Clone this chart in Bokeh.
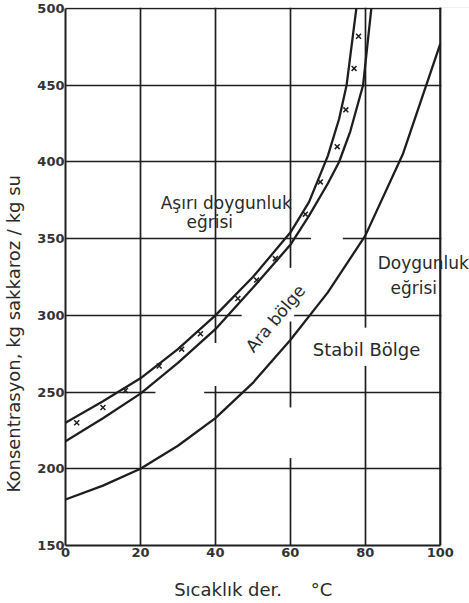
from bokeh.plotting import figure
from bokeh.models import Label, FixedTicker, Span
from bokeh.embed import file_html
from bokeh.resources import INLINE
import math

# ---- data ----
temp_sat = [0, 10, 20, 30, 40, 50, 60, 70, 80, 90, 100]
conc_sat = [180, 189, 200, 215, 233, 256, 284, 315, 352, 405, 477]          # Doygunluk eğrisi

temp_mid = [0, 10, 20, 30, 40, 50, 60, 65, 70, 73, 76, 79.4, 81.6]
conc_mid = [218, 233, 249, 269, 291, 318, 346, 365, 386, 400, 420, 450, 500]

temp_sup = [0, 10, 20, 30, 40, 50, 60, 65, 70, 73, 75, 77.6]
conc_sup = [230, 244, 259, 278, 300, 325, 354, 374, 404, 428, 450, 500]     # Aşırı doygunluk eğrisi

temp_pts = [3, 10, 16, 25, 31, 36, 46, 51, 56, 64, 68, 72.5, 74.8, 77, 78.2]
conc_pts = [230, 240, 251, 267, 278, 288, 311, 323, 337, 366, 387, 410, 434, 461, 482]

x_ticks = [0, 20, 40, 60, 80, 100]
y_ticks = [150, 200, 250, 300, 350, 400, 450, 500]

INK = "#1e1e1e"
FONT = "DejaVu Sans"
NB = "\u00a0"

# frame extends past 100 so the right-hand label is not cut; the part past 100 is blanked
p = figure(width=469, height=603, x_range=(0, 107.8), y_range=(150, 500.7),
           output_backend="svg", toolbar_location=None,
           min_border_left=63, min_border_right=0, min_border_top=7, min_border_bottom=58)
p.background_fill_color = "white"
p.border_fill_color = "white"
p.outline_line_color = None

p.xaxis.ticker = FixedTicker(ticks=x_ticks)
p.yaxis.ticker = FixedTicker(ticks=y_ticks)
p.xaxis.bounds = (0, 100)
p.yaxis.bounds = (150, 500)
for ax in (p.xaxis[0], p.yaxis[0]):
    ax.axis_line_color = INK
    ax.axis_line_width = 2
    ax.major_tick_out = 0
    ax.major_tick_in = 0
    ax.minor_tick_out = 0
    ax.minor_tick_in = 0
    ax.major_label_text_font = FONT
    ax.major_label_text_font_size = "13px"
    ax.major_label_text_font_style = "bold"
    ax.major_label_text_color = "#333333"
    ax.axis_label_text_font = FONT
    ax.axis_label_text_font_size = "18px"
    ax.axis_label_text_font_style = "normal"
    ax.axis_label_text_color = "#2a2a2a"
p.xaxis.major_label_standoff = 2
p.yaxis.major_label_standoff = 1
p.xaxis.axis_label = "Sıcaklık der." + NB * 5 + "°C" + NB * 5
p.yaxis.axis_label = "Konsentrasyon, kg sakkaroz / kg su" + NB * 20
p.xaxis.axis_label_standoff = 19
p.yaxis.axis_label_standoff = 10

p.grid.grid_line_color = INK
p.grid.grid_line_width = 1.7
p.grid.grid_line_alpha = 1.0
p.xgrid.ticker = FixedTicker(ticks=x_ticks)
p.ygrid.ticker = FixedTicker(ticks=y_ticks)

# blank the strip right of 100 and small breaks in the printed grid behind the labels
gap_l = [100.3, 24, 39, 47, 59, 59, 65.5, 79]
gap_r = [110, 37, 41, 59.7, 61, 61, 74, 81]
gap_b = [140, 247, 254, 297.5, 296, 207, 348, 267]
gap_t = [510, 253, 282, 302.5, 331, 240, 352, 292]
p.quad(left=gap_l, right=gap_r, bottom=gap_b, top=gap_t, fill_color="white", line_color=None)

p.add_layout(Span(location=100, dimension="height", line_color=INK, line_width=2))

p.line(temp_sat, conc_sat, line_color=INK, line_width=2.3)
p.line(temp_mid, conc_mid, line_color=INK, line_width=2.3)
p.line(temp_sup, conc_sup, line_color=INK, line_width=2.3)
p.scatter(temp_pts, conc_pts, marker="x", size=7, line_color=INK, line_width=1.5)

def lab(x, y, t, size, align="left", angle=0.0):
    p.add_layout(Label(x=x, y=y, text=t, text_font=FONT, text_font_size=size,
                       text_color="#2a2a2a", text_align=align, text_baseline="middle",
                       angle=angle))

lab(25.4, 373, "Aşırı doygunluk", "17px")
lab(38.5, 361, "eğrisi", "17px", align="center")
lab(83.3, 334, "Doygunluk", "17px")
lab(86.7, 318, "eğrisi", "17px")
lab(66.0, 278, "Stabil Bölge", "18px")
lab(56.0, 298, "Ara bölge", "17px", align="center", angle=math.radians(50))

open("out.html", "w").write(file_html(p, INLINE))
